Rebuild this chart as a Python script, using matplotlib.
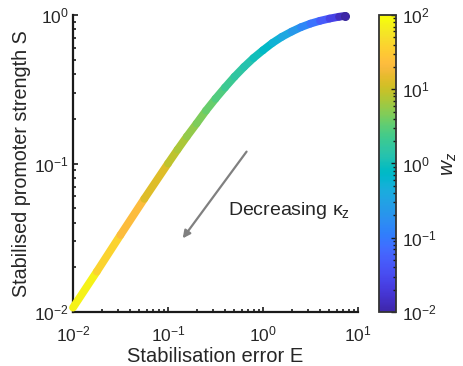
import numpy as np
import matplotlib
matplotlib.use("Agg")
import matplotlib.pyplot as plt
from matplotlib.colors import LogNorm
from matplotlib.collections import LineCollection
from matplotlib.ticker import LogLocator, NullFormatter, FixedLocator

plt.rcParams['font.family'] = ['Liberation Sans', 'DejaVu Sans']
plt.rcParams['mathtext.fontset'] = 'custom'
plt.rcParams['mathtext.rm'] = 'Liberation Sans'
plt.rcParams['mathtext.it'] = 'Liberation Sans:italic'
plt.rcParams['mathtext.bf'] = 'Liberation Sans:bold'

# ---- data ----
E = [0.0100, 0.0178, 0.0316, 0.0562, 0.100, 0.126, 0.158, 0.200, 0.251, 0.316,
     0.398, 0.501, 0.631, 0.794, 1.00, 1.26, 1.58, 2.00, 2.51, 3.16,
     3.98, 5.01, 6.31, 7.30]
S = [0.0107, 0.0187, 0.0330, 0.0578, 0.100, 0.124, 0.152, 0.186, 0.227, 0.273,
     0.325, 0.384, 0.447, 0.513, 0.579, 0.649, 0.713, 0.773, 0.828, 0.875,
     0.914, 0.946, 0.973, 0.986]
w = [100, 52.5, 28.2, 16.6, 10.0, 7.94, 6.31, 5.01, 3.98, 3.16,
     2.40, 1.82, 1.41, 1.12, 0.891, 0.631, 0.447, 0.282, 0.178, 0.112,
     0.0631, 0.0355, 0.0178, 0.0100]

x_ticks = [1e-2, 1e-1, 1e0, 1e1]
x_ticklabels = ['$10^{-2}$', '$10^{-1}$', '$10^{0}$', '$10^{1}$']
y_ticks = [1e-2, 1e-1, 1e0]
y_ticklabels = ['$10^{-2}$', '$10^{-1}$', '$10^{0}$']
c_ticks = [1e-2, 1e-1, 1e0, 1e1, 1e2]
c_ticklabels = ['$10^{-2}$', '$10^{-1}$', '$10^{0}$', '$10^{1}$', '$10^{2}$']

parula_data = [
 [0.2422,0.1504,0.6603],[0.2504,0.1650,0.7076],[0.2578,0.1818,0.7511],[0.2647,0.1978,0.7952],
 [0.2706,0.2147,0.8364],[0.2751,0.2342,0.8710],[0.2783,0.2559,0.8991],[0.2803,0.2782,0.9221],
 [0.2813,0.3006,0.9414],[0.2810,0.3228,0.9579],[0.2795,0.3447,0.9717],[0.2760,0.3667,0.9829],
 [0.2699,0.3892,0.9906],[0.2602,0.4123,0.9952],[0.2440,0.4358,0.9988],[0.2206,0.4603,0.9973],
 [0.1963,0.4847,0.9892],[0.1834,0.5074,0.9798],[0.1786,0.5289,0.9682],[0.1764,0.5499,0.9520],
 [0.1687,0.5703,0.9359],[0.1540,0.5902,0.9218],[0.1460,0.6091,0.9079],[0.1380,0.6276,0.8973],
 [0.1248,0.6459,0.8883],[0.1113,0.6635,0.8763],[0.0952,0.6798,0.8598],[0.0689,0.6948,0.8394],
 [0.0297,0.7082,0.8163],[0.0036,0.7203,0.7917],[0.0067,0.7312,0.7660],[0.0433,0.7411,0.7394],
 [0.0964,0.7500,0.7120],[0.1408,0.7584,0.6842],[0.1717,0.7670,0.6554],[0.1938,0.7758,0.6251],
 [0.2161,0.7843,0.5923],[0.2470,0.7918,0.5567],[0.2906,0.7973,0.5188],[0.3406,0.8008,0.4789],
 [0.3909,0.8029,0.4354],[0.4456,0.8024,0.3909],[0.5044,0.7993,0.3480],[0.5616,0.7942,0.3045],
 [0.6174,0.7876,0.2612],[0.6720,0.7793,0.2227],[0.7242,0.7698,0.1910],[0.7738,0.7598,0.1646],
 [0.8203,0.7498,0.1535],[0.8634,0.7406,0.1596],[0.9035,0.7330,0.1774],[0.9393,0.7288,0.2100],
 [0.9728,0.7298,0.2394],[0.9956,0.7434,0.2371],[0.9970,0.7659,0.2199],[0.9952,0.7893,0.2028],
 [0.9892,0.8136,0.1885],[0.9808,0.8380,0.1782],[0.9696,0.8631,0.1697],[0.9626,0.8903,0.1527],
 [0.9589,0.9190,0.1264],[0.9598,0.9491,0.0962],[0.9661,0.9789,0.0589],[0.9763,0.9831,0.0538]]
parula = matplotlib.colors.LinearSegmentedColormap.from_list('parula', parula_data, N=256)
norm = LogNorm(1e-2, 1e2)

fig = plt.figure(figsize=(4.63, 3.66), dpi=100)
ax = fig.add_axes([73/463, 1-312/366, 285/463, 297/366])
cax = fig.add_axes([379/463, 1-312/366, 17/463, 297/366])

ax.set_xscale('log')
ax.set_yscale('log')
ax.set_xlim(1e-2, 1e1)
ax.set_ylim(1e-2, 1e0)

pts = np.column_stack([E, S])
segs = np.stack([pts[:-1], pts[1:]], axis=1)
wseg = np.sqrt(np.array(w[:-1]) * np.array(w[1:]))
lc = LineCollection(segs, cmap=parula, norm=norm, linewidths=5.6, capstyle='round',
                    joinstyle='round', clip_on=False, zorder=3)
lc.set_array(wseg)
ax.add_collection(lc)
ax.scatter([E[-1]], [S[-1]], s=32, c=[w[-1]], cmap=parula, norm=norm,
           edgecolors='#3a2a9a', linewidths=0.8, zorder=4, clip_on=False)

for side in ['top', 'right']:
    ax.spines[side].set_visible(False)
for side in ['left', 'bottom']:
    ax.spines[side].set_linewidth(1.6)
    ax.spines[side].set_color('#1a1a1a')

ax.xaxis.set_major_locator(FixedLocator(x_ticks))
ax.set_xticklabels(x_ticklabels)
ax.yaxis.set_major_locator(FixedLocator(y_ticks))
ax.set_yticklabels(y_ticklabels)
ax.xaxis.set_minor_locator(LogLocator(base=10, subs=np.arange(2, 10)))
ax.yaxis.set_minor_locator(LogLocator(base=10, subs=np.arange(2, 10)))
ax.xaxis.set_minor_formatter(NullFormatter())
ax.yaxis.set_minor_formatter(NullFormatter())
ax.tick_params(which='both', direction='in', width=1.2, color='#1a1a1a',
               labelsize=12.5, labelcolor='#262626')
ax.tick_params(which='major', length=3.5)
ax.tick_params(which='minor', length=2.2)
ax.tick_params(axis='x', pad=9)
ax.tick_params(axis='y', pad=3)

ax.set_xlabel('Stabilisation error E', fontsize=14.5, color='#262626', labelpad=2)
ax.set_ylabel('Stabilised promoter strength S', fontsize=14.2, color='#262626', labelpad=2)

ax.annotate('', xy=(0.385, 0.248), xytext=(0.609, 0.540), xycoords='axes fraction',
            arrowprops=dict(arrowstyle='-|>', color='#808080', lw=1.6,
                            mutation_scale=11, shrinkA=0, shrinkB=0))
ax.text(0.544, 0.343, 'Decreasing $\\mathregular{\u03ba_z}$', transform=ax.transAxes,
        fontsize=14, color='#262626', va='center', ha='left')

cb = matplotlib.colorbar.ColorbarBase(cax, cmap=parula, norm=norm)
cb.outline.set_linewidth(1.3)
cb.outline.set_edgecolor('#333333')
cax.yaxis.set_major_locator(FixedLocator(c_ticks))
cax.set_yticklabels(c_ticklabels)
cax.yaxis.set_minor_locator(LogLocator(base=10, subs=np.arange(2, 10)))
cax.yaxis.set_minor_formatter(NullFormatter())
cax.tick_params(which='both', direction='in', right=True, left=False, width=1.0,
                color='#1a1a1a', labelsize=12.5, labelcolor='#262626', pad=4)
cax.tick_params(which='major', length=3.5)
cax.tick_params(which='minor', length=2.0)
cax.set_ylabel('$w_z$', fontsize=15, color='#262626', rotation=90, labelpad=3)

fig.savefig('out.png', dpi=100)
